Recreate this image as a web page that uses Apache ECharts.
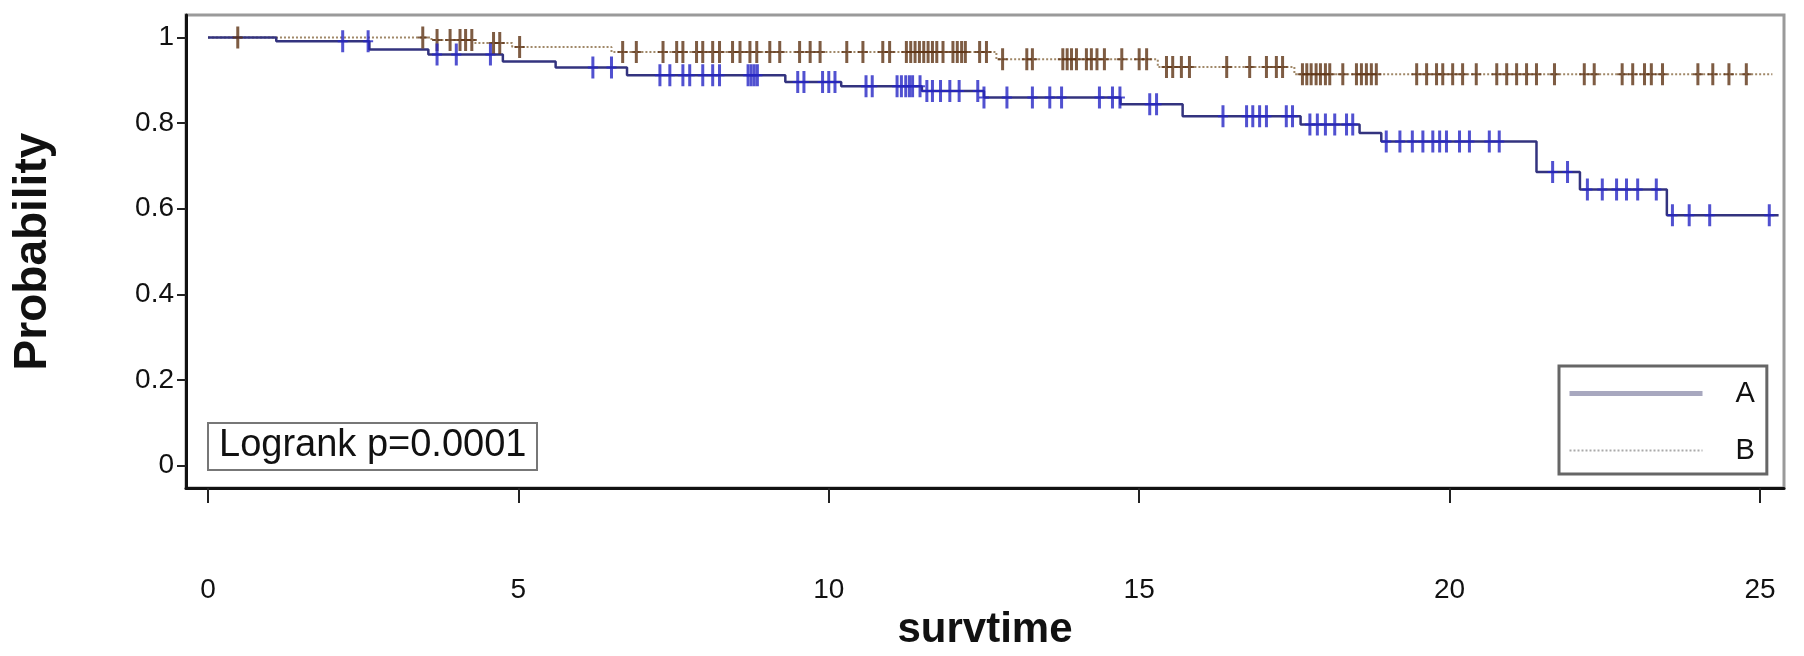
<!DOCTYPE html>
<html>
<head>
<meta charset="utf-8">
<script src="https://cdn.jsdelivr.net/npm/echarts@6/dist/echarts.min.js"></script>
<style>
html,body{margin:0;padding:0;background:#fff;}
#chart{width:1804px;height:656px;}
</style>
</head>
<body>
<div id="chart"></div>
<script>
// ---- data ----
const xTicks = [0, 5, 10, 15, 20, 25];
const xTickLabels = ['0', '5', '10', '15', '20', '25'];
const yTicks = [0, 0.2, 0.4, 0.6, 0.8, 1];
const yTickLabels = ['0', '0.2', '0.4', '0.6', '0.8', '1'];

// group A: step times and survival after each step
const timesA = [0, 1.1, 2.6, 3.55, 4.75, 5.6, 6.75, 9.3, 10.2, 11.5, 12.5, 14.7, 15.7, 17.6, 18.55, 18.9, 21.4, 22.1, 23.5, 25.3];
const survA  = [1.0, 0.991, 0.972, 0.96, 0.944, 0.93, 0.912, 0.896, 0.886, 0.875, 0.86, 0.844, 0.816, 0.797, 0.777, 0.757, 0.686, 0.645, 0.585, 0.585];
// group B
const timesB = [0, 3.6, 4.3, 4.9, 6.5, 12.7, 15.3, 17.5, 25.2];
const survB  = [1.0, 0.994, 0.987, 0.978, 0.966, 0.949, 0.931, 0.914, 0.914];

// censoring times
const censA = [2.17, 2.58, 3.69, 4.0, 4.55, 6.2, 6.5, 7.28, 7.44, 7.65, 7.76, 7.97, 8.13, 8.24, 8.7, 8.75, 8.8, 8.85,
  9.5, 9.6, 9.9, 10.0, 10.1, 10.6, 10.7, 11.1, 11.17, 11.24, 11.3, 11.35, 11.47, 11.58, 11.67, 11.8, 11.95, 12.1,
  12.4, 12.5, 12.87, 13.28, 13.56, 13.75, 14.36, 14.57, 14.69, 15.17, 15.28, 16.35, 16.73, 16.83, 16.94, 17.05,
  17.37, 17.47, 17.75, 17.87, 18.0, 18.15, 18.34, 18.44, 18.98, 19.2, 19.4, 19.57, 19.73, 19.84, 19.95, 20.16,
  20.32, 20.64, 20.8, 21.66, 21.9, 22.22, 22.46, 22.69, 22.85, 23.03, 23.33, 23.59, 23.86, 24.19, 25.15];
const censB = [0.48, 3.46, 3.69, 3.9, 4.06, 4.15, 4.25, 4.6, 4.7, 5.02, 6.68, 6.9, 7.33, 7.55, 7.65, 7.87, 7.97, 8.13,
  8.24, 8.45, 8.57, 8.73, 8.84, 9.05, 9.21, 9.53, 9.7, 9.86, 10.29, 10.55, 10.87, 10.98, 11.25, 11.32, 11.39, 11.46,
  11.53, 11.6, 11.67, 11.74, 11.84, 12.0, 12.07, 12.14, 12.2, 12.43, 12.54, 12.8, 13.19, 13.28, 13.77, 13.84, 13.91,
  13.99, 14.15, 14.23, 14.32, 14.44, 14.72, 15.0, 15.12, 15.44, 15.54, 15.68, 15.81, 16.41, 16.78, 17.05, 17.21,
  17.31, 17.63, 17.7, 17.77, 17.85, 17.92, 18.0, 18.07, 18.28, 18.5, 18.58, 18.66, 18.74, 18.82, 19.47, 19.63,
  19.79, 19.89, 20.05, 20.21, 20.43, 20.76, 20.92, 21.08, 21.24, 21.4, 21.69, 22.17, 22.33, 22.78, 22.95, 23.14,
  23.25, 23.43, 24.0, 24.24, 24.5, 24.78];

const pText = 'Logrank p=0.0001';

// ---- build ----
function survAt(times, surv, t) {
  let v = surv[0];
  for (let i = 0; i < times.length; i++) { if (times[i] <= t) v = surv[i]; }
  return v;
}
const zip = (a, b) => a.map((v, i) => [v, b[i]]);
const marks = (c, times, surv) => c.map(t => [t, survAt(times, surv, t)]);

const FONT = '"Liberation Sans", Arial, sans-serif';
const plus = 'path://M3.5,0h3v22h-3z M0,10h10v2h-10z';

const chart = echarts.init(document.getElementById('chart'), null, {renderer: 'canvas'});
chart.setOption({
  backgroundColor: '#ffffff',
  animation: false,
  textStyle: {fontFamily: FONT},
  grid: {left: 186, right: 20, top: 15, bottom: 150, show: true, borderColor: '#9a9a9a', borderWidth: 3, backgroundColor: 'transparent'},
  title: {
    text: pText, left: 208, top: 423,
    borderColor: '#777', borderWidth: 2, padding: [4, 11, 5, 11],
    textStyle: {fontSize: 38, fontWeight: 'normal', color: '#111', fontFamily: FONT}
  },
  legend: {
    orient: 'vertical', left: 1559, top: 366,
    padding: [13, 12, 9, 8], itemGap: 28, itemWidth: 133, itemHeight: 29,
    borderColor: '#666', borderWidth: 3, backgroundColor: '#fff',
    textStyle: {fontSize: 29, color: '#111', fontFamily: FONT, padding: [0, 0, 0, 28]},
    data: [
      {name: 'A', lineStyle: {color: '#a8a8bf', width: 5, type: 'solid'}, itemStyle: {opacity: 0}},
      {name: 'B', lineStyle: {color: '#aaaaaa', width: 2, type: 'dotted'}, itemStyle: {opacity: 0}}
    ]
  },
  xAxis: {
    type: 'value', min: -0.354, max: 25.387,
    name: 'survtime', nameLocation: 'middle', nameGap: 118,
    nameTextStyle: {fontSize: 42, fontWeight: 'bold', color: '#111', fontFamily: FONT},
    axisLine: {show: true, onZero: false, lineStyle: {color: '#111', width: 3}},
    axisTick: {show: true, length: 15, customValues: xTicks, lineStyle: {color: '#222', width: 2}},
    axisLabel: {customValues: xTicks, formatter: v => xTickLabels[xTicks.indexOf(v)], margin: 88, fontSize: 28, color: '#111'},
    splitLine: {show: false}
  },
  yAxis: {
    type: 'value', min: -0.0525, max: 1.0525,
    name: 'Probability', nameLocation: 'middle', nameGap: 130,
    nameTextStyle: {fontSize: 46, fontWeight: 'bold', color: '#111', fontFamily: FONT},
    axisLine: {show: true, onZero: false, lineStyle: {color: '#111', width: 3}},
    axisTick: {show: true, length: 9, customValues: yTicks, lineStyle: {color: '#222', width: 2}},
    axisLabel: {customValues: yTicks, formatter: v => yTickLabels[yTicks.indexOf(v)], margin: 12, fontSize: 28, color: '#111'},
    splitLine: {show: false}
  },
  series: [
    {name: 'B', type: 'line', step: 'end', data: zip(timesB, survB), symbol: 'none',
     lineStyle: {color: '#a08868', width: 2, type: 'dotted'}, z: 2},
    {name: 'A', type: 'line', step: 'end', data: zip(timesA, survA), symbol: 'none',
     lineStyle: {color: '#33337f', width: 2.5}, z: 3},
    {name: 'B censored', type: 'scatter', data: marks(censB, timesB, survB), symbol: plus, symbolSize: [10, 22],
     itemStyle: {color: '#5e3314'}, z: 4},
    {name: 'A censored', type: 'scatter', data: marks(censA, timesA, survA), symbol: plus, symbolSize: [10, 22],
     itemStyle: {color: '#2626c4'}, z: 5}
  ]
});
</script>
</body>
</html>
